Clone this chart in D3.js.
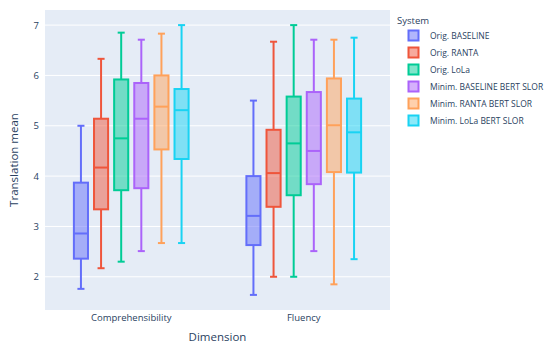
<!DOCTYPE html>
<html><head><meta charset="utf-8">
<script src="https://cdn.jsdelivr.net/npm/d3@7"></script>
<style>body{margin:0;background:#fff}svg{display:block;font-family:"Open Sans",verdana,arial,sans-serif}</style>
</head><body><svg id="c" width="548" height="344"></svg>
<script>
const dimensions = ["Comprehensibility", "Fluency"];
const systems = ["Orig. BASELINE", "Orig. RANTA", "Orig. LoLa", "Minim. BASELINE BERT SLOR", "Minim. RANTA BERT SLOR", "Minim. LoLa BERT SLOR"];
const colors = ["#636efa", "#EF553B", "#00cc96", "#ab63fa", "#FFA15A", "#19d3f3"];
// [lowerWhisker, q1, median, q3, upperWhisker] per system, per dimension
const comprehensibility = [
  [1.76, 2.36, 2.86, 3.87, 5.00],
  [2.17, 3.34, 4.17, 5.14, 6.33],
  [2.30, 3.72, 4.75, 5.92, 6.85],
  [2.51, 3.76, 5.14, 5.85, 6.71],
  [2.67, 4.53, 5.38, 6.00, 6.83],
  [2.67, 4.34, 5.31, 5.73, 7.00]
];
const fluency = [
  [1.64, 2.63, 3.21, 4.00, 5.50],
  [2.00, 3.39, 4.06, 4.92, 6.67],
  [2.00, 3.62, 4.65, 5.58, 7.00],
  [2.51, 3.84, 4.50, 5.67, 6.71],
  [1.85, 4.08, 5.01, 5.94, 6.71],
  [2.35, 4.07, 4.87, 5.54, 6.75]
];
const yTicks = [2, 3, 4, 5, 6, 7];
const yDomain = [1.34, 7.30];

const svg = d3.select("#c");
const L = 45, R = 390, T = 10, B = 310;
const textColor = "#2a3f5f";
svg.append("rect").attr("x", L).attr("y", T).attr("width", R - L).attr("height", B - T).attr("fill", "#E5ECF6");

const x = d3.scaleBand().domain(dimensions).range([L, R]).paddingInner(0).paddingOuter(0);
const y = d3.scaleLinear().domain(yDomain).range([B, T]);

// grid
svg.append("g").selectAll("line").data(yTicks).join("line")
  .attr("x1", L).attr("x2", R).attr("y1", d => y(d)).attr("y2", d => y(d))
  .attr("stroke", "#fff").attr("stroke-width", 1);

// y axis labels
const yAxis = d3.axisLeft(y).tickValues(yTicks).tickFormat(d3.format("d")).tickSize(0).tickPadding(6);
const yg = svg.append("g").attr("transform", `translate(${L},0)`).call(yAxis);
yg.select(".domain").remove();
yg.selectAll("text").attr("fill", textColor).attr("font-size", 9.5).attr("font-family", '"Open Sans",verdana,arial,sans-serif');

// x axis labels
const xAxis = d3.axisBottom(x).tickSize(0).tickPadding(4);
const xg = svg.append("g").attr("transform", `translate(0,${B})`).call(xAxis);
xg.select(".domain").remove();
xg.selectAll("text").attr("fill", textColor).attr("font-size", 9.5).attr("font-family", '"Open Sans",verdana,arial,sans-serif');

// boxes
const groupW = x.bandwidth() * 0.7;
const slotW = groupW / systems.length;
const boxW = slotW * 0.7;
const data = [comprehensibility, fluency];
dimensions.forEach((dim, di) => {
  const g0 = x(dim) + (x.bandwidth() - groupW) / 2;
  systems.forEach((s, si) => {
    const [lo, q1, med, q3, hi] = data[di][si];
    const cx = g0 + slotW * (si + 0.5);
    const g = svg.append("g");
    const c = colors[si];
    g.append("line").attr("x1", cx).attr("x2", cx).attr("y1", y(hi)).attr("y2", y(q3)).attr("stroke", c).attr("stroke-width", 2);
    g.append("line").attr("x1", cx).attr("x2", cx).attr("y1", y(q1)).attr("y2", y(lo)).attr("stroke", c).attr("stroke-width", 2);
    g.append("line").attr("x1", cx - boxW / 4).attr("x2", cx + boxW / 4).attr("y1", y(hi)).attr("y2", y(hi)).attr("stroke", c).attr("stroke-width", 2);
    g.append("line").attr("x1", cx - boxW / 4).attr("x2", cx + boxW / 4).attr("y1", y(lo)).attr("y2", y(lo)).attr("stroke", c).attr("stroke-width", 2);
    g.append("rect").attr("x", cx - boxW / 2).attr("y", y(q3)).attr("width", boxW).attr("height", y(q1) - y(q3))
      .attr("fill", c).attr("fill-opacity", 0.5).attr("stroke", c).attr("stroke-width", 2);
    g.append("line").attr("x1", cx - boxW / 2).attr("x2", cx + boxW / 2).attr("y1", y(med)).attr("y2", y(med)).attr("stroke", c).attr("stroke-width", 2);
  });
});

// axis titles
svg.append("text").attr("x", (L + R) / 2).attr("y", 341).attr("text-anchor", "middle").attr("fill", textColor).attr("font-size", 11.5).text("Dimension");
svg.append("text").attr("transform", `translate(18,${(T + B) / 2}) rotate(-90)`).attr("text-anchor", "middle").attr("fill", textColor).attr("font-size", 11.5).text("Translation mean");

// legend
const lg = svg.append("g");
lg.append("text").attr("x", 397).attr("y", 24).attr("fill", textColor).attr("font-size", 9.5).text("System");
systems.forEach((s, i) => {
  const cy = 35.5 + i * 17;
  lg.append("rect").attr("x", 408.5).attr("y", cy - 5).attr("width", 10).attr("height", 10)
    .attr("fill", colors[i]).attr("fill-opacity", 0.5).attr("stroke", colors[i]).attr("stroke-width", 2);
  lg.append("text").attr("x", 430).attr("y", cy + 3).attr("fill", textColor).attr("font-size", 8.5).text(s);
});
</script></body></html>
